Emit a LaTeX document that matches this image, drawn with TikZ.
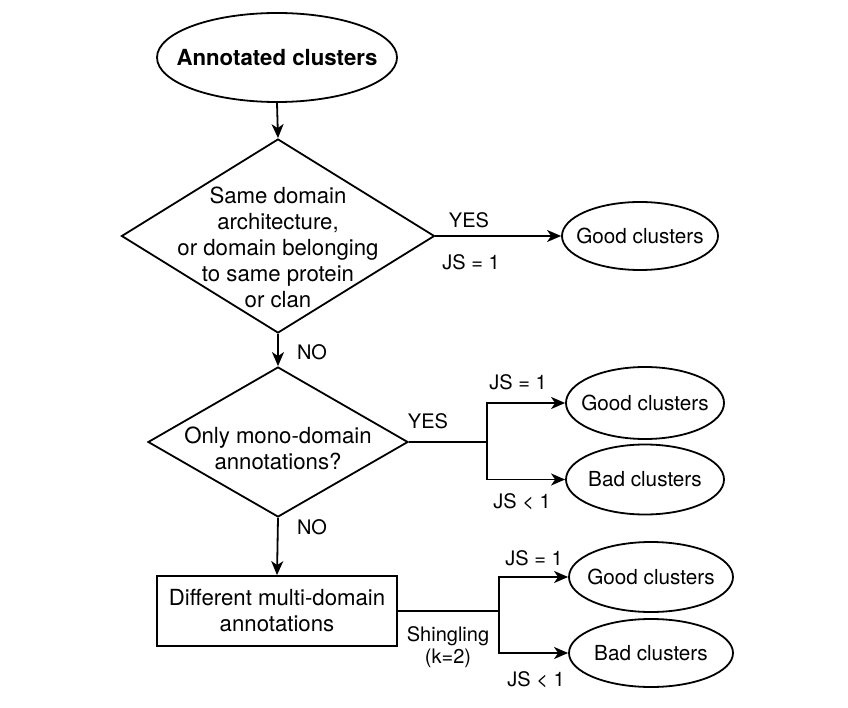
\documentclass[tikz,border=0pt]{standalone}
\usepackage{fontspec}
\setmainfont{TeX Gyre Heros}
\usetikzlibrary{shapes.geometric,arrows.meta}
\begin{document}
\begin{tikzpicture}[x=1pt,y=-1pt,
  every node/.style={font=\fontsize{20.7}{26}\selectfont, inner sep=0pt},
  line/.style={line width=1.8pt, draw=black},
  arr/.style={line, -{Stealth[length=14pt,width=12pt,inset=4pt]}},
  oval/.style={ellipse, draw, line width=1.8pt, inner xsep=-10pt, inner ysep=0pt},
  dia/.style={diamond, draw, line width=1.8pt},
  box/.style={rectangle, draw, line width=1.8pt},
  big/.style={align=center, font=\fontsize{22.2}{26}\selectfont},
  lbl/.style={align=center, font=\fontsize{20}{22.5}\selectfont}
]
\path[use as bounding box] (0,0) rectangle (848,708);

% nodes
\node[oval, inner xsep=-16pt, minimum width=240pt, minimum height=89pt, font=\fontsize{22.2}{26}\selectfont\bfseries] (start) at (277,57.5) {Annotated clusters};
\node[dia, minimum width=313pt, minimum height=194pt] (d1) at (278,236) {};
\node[big] (d1t) at (278,247) {Same domain\\architecture,\\or domain belonging\\to same protein\\or clan};
\node[oval, minimum width=156pt, minimum height=68pt] (g1) at (640,236) {Good clusters};

\node[dia, minimum width=260pt, minimum height=150pt] (d2) at (278,442) {};
\node[big] (d2t) at (278,448) {Only mono-domain\\annotations?};
\node[oval, minimum width=158pt, minimum height=72pt] (g2) at (645,403) {Good clusters};
\node[oval, minimum width=158pt, minimum height=70pt] (b1) at (645,479.5) {Bad clusters};

\node[box, big, minimum width=240pt, minimum height=70pt] (r) at (277,611) {Different multi-domain\\annotations};
\node[oval, minimum width=164pt, minimum height=70pt] (g3) at (651,577) {Good clusters};
\node[oval, minimum width=164pt, minimum height=68pt] (b2) at (651,653) {Bad clusters};

\coordinate (j1) at (487,442);
\coordinate (j2) at (499,611);

% connectors
\draw[arr] (start.south) -- (d1.north);
\draw[arr] (d1.east) -- (g1.west);
\draw[arr] (d1.south) -- (d2.north);
\draw[line] (d2.east) -- (j1);
\draw[arr] (j1) |- (g2.west);
\draw[arr] (j1) |- (b1.west);
\draw[arr] (d2.south) -- (r.north);
\draw[line] (r.east) -- (j2);
\draw[arr] (j2) |- (g3.west);
\draw[arr] (j2) |- (b2.west);

% labels
\node[lbl] (yes1) at (469,220) {YES};
\node[lbl] (js1) at (471,262) {JS = 1};
\node[lbl] (no1) at (312,352) {NO};
\node[lbl] (yes2) at (428,421) {YES};
\node[lbl] (js2) at (518,382) {JS = 1};
\node[lbl] (js3) at (522,502) {JS < 1};
\node[lbl] (no2) at (312,527) {NO};
\node[lbl] (sh) at (448,647) {Shingling\\(k=2)};
\node[lbl] (js4) at (534,558) {JS = 1};
\node[lbl] (js5) at (536,680) {JS < 1};
\end{tikzpicture}
\end{document}
